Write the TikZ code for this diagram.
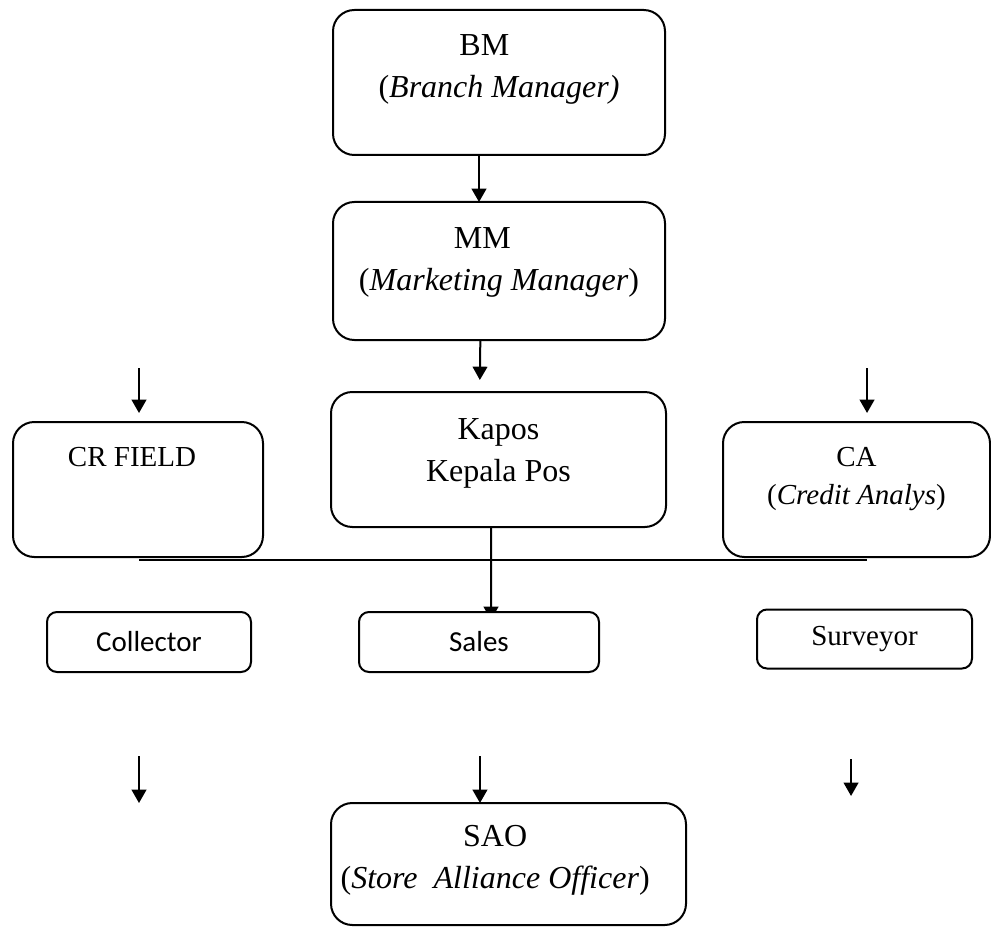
\documentclass[tikz,border=0pt]{standalone}
\usepackage{fontspec}
\setmainfont{Liberation Serif}
\newfontfamily\calibrifont{Carlito}
\usetikzlibrary{arrows.meta}
\usetikzlibrary{backgrounds}
\newcommand{\bigfont}{\fontsize{24}{31.5}\selectfont}
\newcommand{\smallfont}{\fontsize{21.75}{28.5}\selectfont}
\tikzstyle{unit}=[draw, fill=white, line width=1.5pt, inner sep=0, outer sep=0]
\tikzstyle{bigunit}=[unit, rounded corners=16pt]
\tikzstyle{smallunit}=[unit, rounded corners=7.5pt, font=\smallfont]
\tikzstyle{unittext}=[anchor=base, align=center, inner sep=0, outer sep=0]
\tikzstyle{link}=[line width=1.5pt, -{Triangle[length=10pt, width=11pt]}]
\tikzstyle{orgchart}=[x=0.75pt, y=-0.75pt,
                      % The base of a two-line label is its last line.
                      every label/.style={unittext}]

\begin{document}
\begin{tikzpicture}[orgchart]
        \useasboundingbox (0, 0) rectangle (991, 934);
        \node[bigunit, minimum width=249pt, minimum height=108.75pt,
              label={[font=\bigfont, yshift=-66pt]north:{\hspace*{-22pt}BM\\(\textit{Branch Manager)}}}]          (BM) at (499, 82.5) {};
        \node[bigunit, minimum width=249pt, minimum height=103.5pt,
              label={[font=\bigfont, yshift=-66pt]north:{\hspace*{-25pt}MM\\(\textit{Marketing Manager})}}]      (MM) at (499, 271) {};
        \node[bigunit, minimum width=251.25pt, minimum height=101.25pt,
              label={[font=\bigfont, yshift=-66.75pt]north:{Kapos\\Kepala Pos}}]                                 (Kapos) at (498.5, 459.5) {};
        \node[bigunit, minimum width=187.5pt, minimum height=101.25pt,
              label={[font=\smallfont, xshift=-4.5pt, yshift=-33pt]north:{CR FIELD}}]                            (CR) at (138, 489.5) {};
        \node[bigunit, minimum width=200.25pt, minimum height=101.25pt,
              label={[font=\smallfont, yshift=-61.5pt]north:{CA\\(\textit{Credit Analys})}}]                       (CA) at (856.5, 489.5) {};
        \node[smallunit, minimum width=153pt, minimum height=45pt]      (Collector) at (149, 642) {\calibrifont Collector};
        \node[smallunit, minimum width=180pt, minimum height=45pt]      (Sales) at (479, 642) {\calibrifont Sales};
        \node[smallunit, minimum width=161.25pt, minimum height=44.25pt] (Surveyor) at (864.5, 639) {Surveyor};
        \node[bigunit, minimum width=266.25pt, minimum height=91.5pt,
              label={[font=\bigfont, xshift=-10pt, yshift=-63.75pt]north:{SAO\\(\textit{Store\ \ Alliance Officer})}}] (SAO) at (508.5, 864) {};
        \draw[link] ([xshift=-15pt]BM.south) -- ([xshift=-15pt]MM.north);
        \draw[link] ([xshift=-14pt]MM.south) -- ([xshift=-14pt, yshift=9pt]Kapos.north);
        \draw[link] ([xshift=0.75pt, yshift=40.5pt]CR.north) -- ([xshift=0.75pt, yshift=6.75pt]CR.north);
        \draw[link] ([xshift=7.9pt, yshift=40.5pt]CA.north) -- ([xshift=7.9pt, yshift=6.75pt]CA.north);
        \draw[line width=1.2pt] ([xshift=0.75pt, yshift=-2.25pt]CR.south) -- ([xshift=7.9pt, yshift=-2.25pt]CA.south);
        \begin{pgfonlayer}{background}
        \draw[link] ([xshift=-5.6pt]Kapos.south) -- ([xshift=9pt, yshift=-6pt]Sales.north);
        \end{pgfonlayer}
        \draw[link] ([xshift=-7.5pt, yshift=-63pt]Collector.south) -- ([xshift=-7.5pt, yshift=-98.25pt]Collector.south);
        \draw[link] ([xshift=-21.4pt, yshift=35.25pt]SAO.north) -- ([xshift=-21.4pt]SAO.north);
        \draw[link] ([xshift=-10.1pt, yshift=-67.9pt]Surveyor.south) -- ([xshift=-10.1pt, yshift=-95.6pt]Surveyor.south);
    \end{tikzpicture}
\end{document}
